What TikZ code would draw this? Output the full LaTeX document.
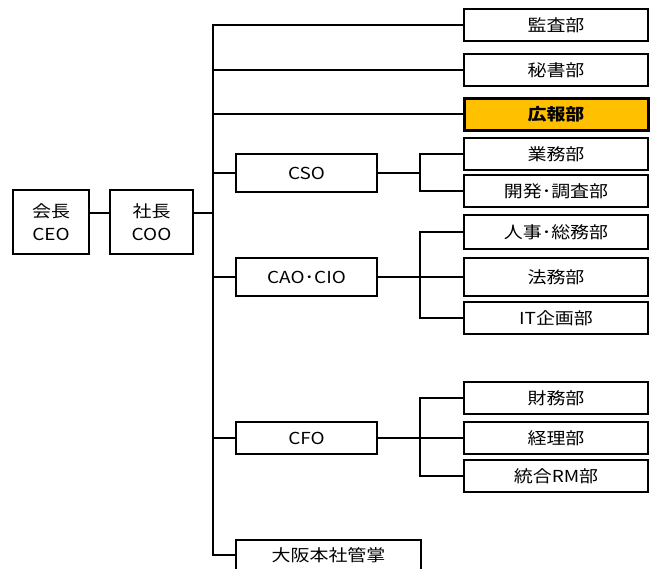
\documentclass[tikz,border=0pt]{standalone}
\usepackage{fontspec}
\setmainfont[FakeStretch=1.15]{Noto Sans CJK JP}

\begin{document}
\begin{tikzpicture}[x=1pt,y=-1pt,line width=2pt,
  every node/.style={font=\fontsize{16.5}{23}\selectfont,inner sep=0pt},
  topbox/.style={draw,minimum width=80pt,minimum height=64pt,align=center},
  midbox/.style={draw,minimum width=141pt,minimum height=38pt},
  dept/.style={draw,minimum width=184pt,minimum height=32pt},
  hilite/.style={dept,fill=kohocolor,line width=3pt,font=\fontsize{16.5}{23}\bfseries\selectfont}]
  \definecolor{kohocolor}{HTML}{FFC000}
  \useasboundingbox (0,0) rectangle (652,568);
  \node[topbox,minimum width=76pt] (ceo) at (51,222) {会長\\CEO};
  \node[topbox,minimum width=83pt] (coo) at (151.5,222) {社長\\COO};
  \node[dept] (kansa) at (556,25) {監査部};
  \node[dept] (hisho) at (556,70) {秘書部};
  \node[hilite] (koho) at (556,114) {広報部};
  \node[midbox] (cso) at (306.5,173) {CSO};
  \node[dept] (gyomu) at (556,154) {業務部};
  \node[dept] (kaihatsu) at (556,191) {開発･調査部};
  \node[midbox] (cao) at (306.5,277) {CAO･CIO};
  \node[dept,minimum height=34pt] (jinji) at (556,232) {人事･総務部};
  \node[dept,minimum height=38pt] (homu) at (556,277) {法務部};
  \node[dept] (itkikaku) at (556,318) {IT企画部};
  \node[midbox,minimum height=32pt] (cfo) at (306.5,438) {CFO};
  \node[dept] (zaimu) at (556,398) {財務部};
  \node[dept] (keiri) at (556,438) {経理部};
  \node[dept] (togo) at (556,476) {統合RM部};
  \node[midbox,minimum width=185pt,minimum height=30pt] (osaka) at (328.5,555) {大阪本社管掌};
  % trunk
  \coordinate (trunk) at (213,0);
  \draw ([yshift=9pt]ceo.east) -- ([yshift=9pt]coo.west);
  \draw ([yshift=9pt]coo.east) -- ([yshift=9pt]coo.east -| trunk);
  \draw (kansa.west) -- (kansa.west -| trunk) -- (osaka.west -| trunk) -- (osaka.west);
  \foreach \n in {hisho,koho,cso,cao,cfo}
    \draw (\n.west -| trunk) -- (\n.west);
  % sub trunks
  \coordinate (sub) at (420,0);
  \draw (cso.east) -- (cso.east -| sub);
  \draw (gyomu.west) -- (gyomu.west -| sub) -- (kaihatsu.west -| sub) -- (kaihatsu.west);
  \draw (cao.east) -- (homu.west);
  \draw (jinji.west) -- (jinji.west -| sub) -- (itkikaku.west -| sub) -- (itkikaku.west);
  \draw (cfo.east) -- (keiri.west);
  \draw (zaimu.west) -- (zaimu.west -| sub) -- (togo.west -| sub) -- (togo.west);
\end{tikzpicture}
\end{document}
